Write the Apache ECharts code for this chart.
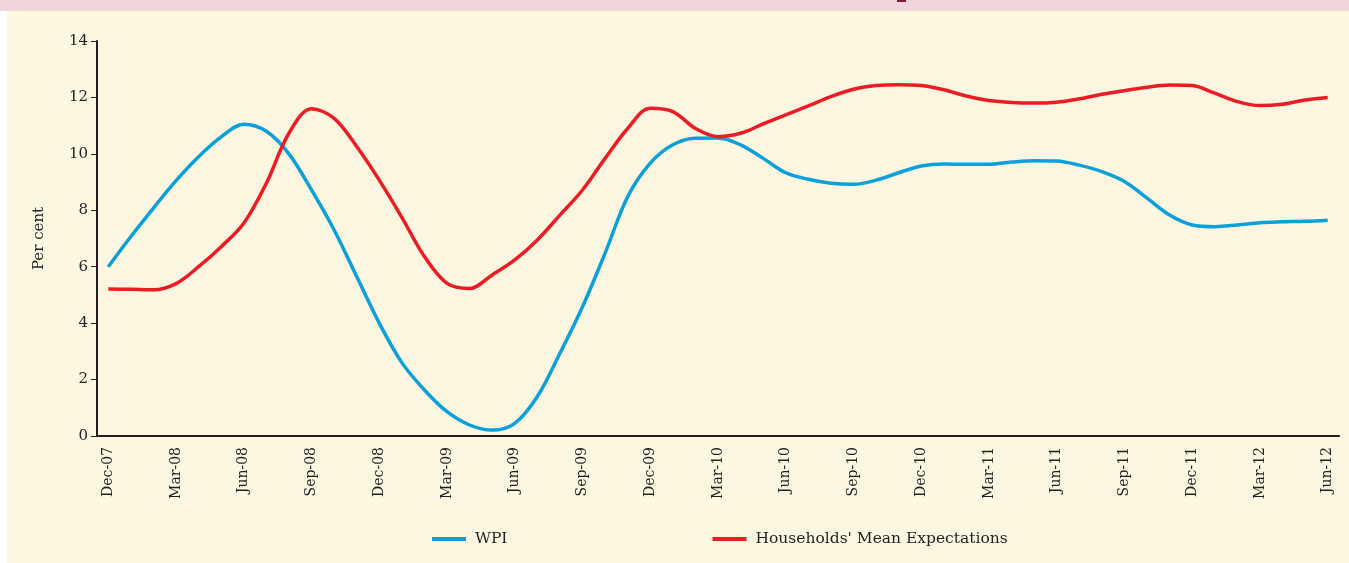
<!DOCTYPE html>
<html lang="en">

<head>
    <meta charset="UTF-8">
    <title>WPI and Households' Mean Expectations</title>
    <script src="https://cdn.jsdelivr.net/npm/echarts@6/dist/echarts.min.js"></script>
    <style>
        html, body { margin: 0; padding: 0; background: #fdf6e1; }
        #main { width: 1349px; height: 563px; }
    </style>
</head>

<body>
    <div id="main"></div>
    <script>
        // monthly categories, Dec-07 .. Jun-12; labels every quarter
        var months = ['Jan', 'Feb', 'Mar', 'Apr', 'May', 'Jun', 'Jul', 'Aug', 'Sep', 'Oct', 'Nov', 'Dec'];
        var categories = [];
        for (var k = 0; k < 55; k++) {
            var m = (11 + k) % 12;
            var y = 7 + Math.floor((11 + k) / 12);
            categories.push(months[m] + '-' + (y < 10 ? '0' + y : '' + y));
        }

        var wpi = [6.0, 7.07, 8.08, 9.05, 9.9, 10.6, 11.05, 10.8, 10.0, 8.72, 7.3, 5.65, 4.0,
            2.6, 1.63, 0.86, 0.39, 0.21, 0.45, 1.4, 2.93, 4.58, 6.48, 8.48, 9.67, 10.32, 10.55,
            10.56, 10.32, 9.84, 9.33, 9.1, 8.96, 8.92, 9.07, 9.33, 9.57, 9.64, 9.63, 9.63, 9.71,
            9.76, 9.75, 9.6, 9.37, 9.02, 8.43, 7.83, 7.48, 7.42, 7.48, 7.56, 7.59, 7.61, 7.65];

        var households = [5.21, 5.2, 5.18, 5.4, 6.0, 6.71, 7.54, 8.96, 10.73, 11.6, 11.26, 10.26, 9.07,
            7.75, 6.36, 5.41, 5.23, 5.71, 6.24, 6.95, 7.83, 8.72, 9.84, 10.9, 11.62, 11.5, 10.9,
            10.61, 10.73, 11.06, 11.38, 11.7, 12.03, 12.29, 12.42, 12.45, 12.42, 12.27, 12.05, 11.89, 11.82,
            11.8, 11.83, 11.95, 12.11, 12.24, 12.36, 12.44, 12.42, 12.15, 11.85, 11.71, 11.76, 11.91, 12.0];

        var yTicks = [0, 14, 2];

        var textColor = '#231f20';
        var font = 'DejaVu Serif';

        var mychart = echarts.init(document.getElementById('main'));

        var option = {
            backgroundColor: '#fdf6e1',
            animation: false,
            graphic: [
                { type: 'rect', shape: { x: 0, y: 0, width: 1349, height: 11 }, style: { fill: '#f0d6da' }, silent: true },
                { type: 'rect', shape: { x: 897, y: 0, width: 9, height: 2 }, style: { fill: '#8b1538' }, silent: true },
                { type: 'rect', shape: { x: 0, y: 11, width: 7, height: 552 }, style: { fill: '#ffffff' }, silent: true }
            ],
            grid: {
                left: 97,
                right: 10,
                top: 41,
                bottom: 127
            },
            legend: {
                data: ['WPI', "Households' Mean Expectations"],
                left: 427,
                top: 526,
                icon: 'rect',
                itemWidth: 34,
                itemHeight: 4,
                itemGap: 205,
                textStyle: { fontFamily: font, fontSize: 15.5, color: textColor, padding: [0, 0, 0, 4] }
            },
            xAxis: {
                type: 'category',
                data: categories,
                boundaryGap: true,
                axisLine: { lineStyle: { color: textColor, width: 2 } },
                axisTick: { interval: 2, length: 6, lineStyle: { color: textColor, width: 1 } },
                axisLabel: {
                    interval: 2,
                    rotate: 90,
                    margin: 11,
                    fontFamily: font,
                    fontSize: 14,
                    color: textColor
                },
                splitLine: { show: false }
            },
            yAxis: {
                type: 'value',
                min: yTicks[0],
                max: yTicks[1],
                interval: yTicks[2],
                name: 'Per cent',
                nameLocation: 'middle',
                nameRotate: 90,
                nameGap: 50,
                nameTextStyle: { fontFamily: font, fontSize: 15, color: textColor },
                axisLine: { show: true, lineStyle: { color: textColor, width: 2 } },
                axisTick: { show: true, length: 6, lineStyle: { color: textColor, width: 1 } },
                axisLabel: { margin: 9, fontFamily: font, fontSize: 15, color: textColor },
                splitLine: { show: false }
            },
            series: [
                {
                    name: 'WPI',
                    type: 'line',
                    data: wpi,
                    smooth: 0.35,
                    showSymbol: false,
                    lineStyle: { color: '#0aa0dc', width: 3.5 },
                    itemStyle: { color: '#0aa0dc' }
                },
                {
                    name: "Households' Mean Expectations",
                    type: 'line',
                    data: households,
                    smooth: 0.35,
                    showSymbol: false,
                    lineStyle: { color: '#ed1c24', width: 3.5 },
                    itemStyle: { color: '#ed1c24' }
                }
            ]
        };
        mychart.setOption(option);
    </script>
</body>

</html>
